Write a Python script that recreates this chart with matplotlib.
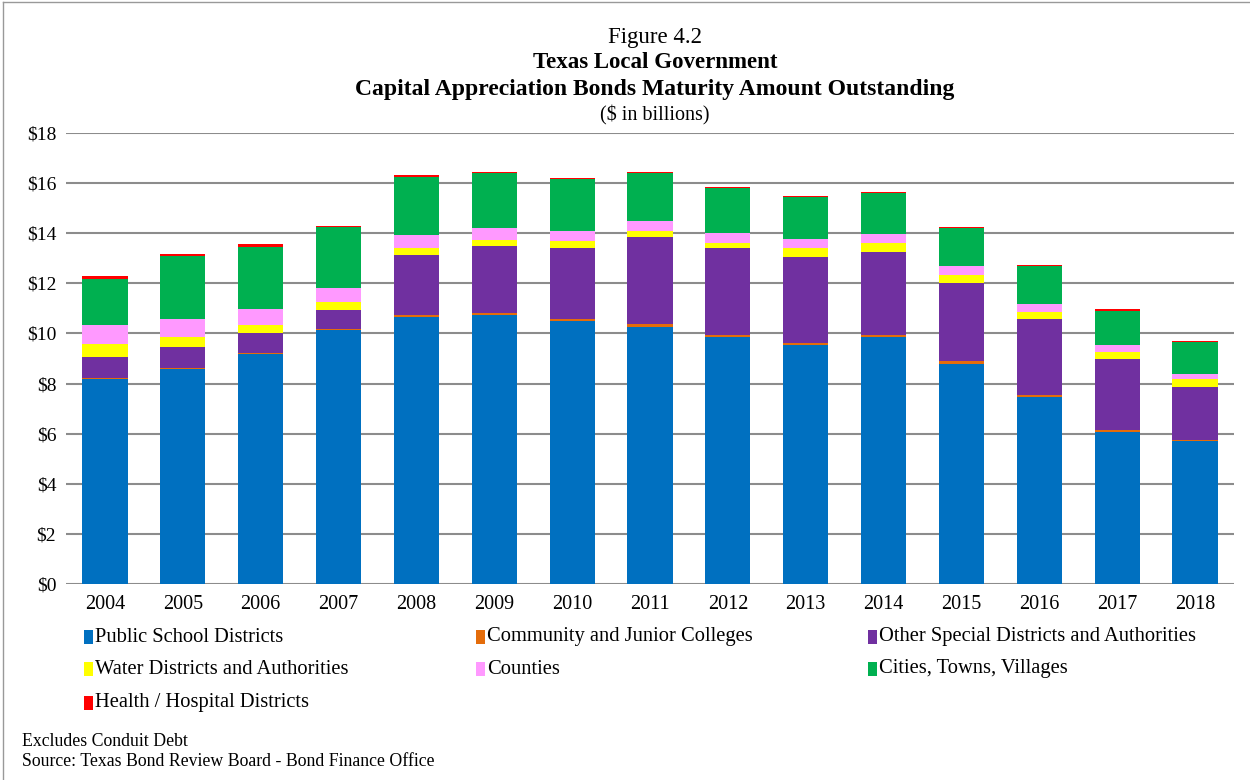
import matplotlib
matplotlib.use("Agg")
import matplotlib.pyplot as plt
from matplotlib.patches import Rectangle
from matplotlib.lines import Line2D
import numpy as np

years = ["2004", "2005", "2006", "2007", "2008", "2009", "2010", "2011",
         "2012", "2013", "2014", "2015", "2016", "2017", "2018"]

public_school = [8.17, 8.57, 9.17, 10.12, 10.64, 10.72, 10.48, 10.26, 9.84, 9.52, 9.87, 8.79, 7.45, 6.08, 5.69]
community_colleges = [0.05, 0.05, 0.05, 0.06, 0.09, 0.09, 0.09, 0.10, 0.10, 0.11, 0.07, 0.12, 0.11, 0.07, 0.06]
other_special = [0.85, 0.85, 0.81, 0.75, 2.41, 2.69, 2.86, 3.48, 3.49, 3.42, 3.33, 3.09, 3.01, 2.82, 2.12]
water = [0.51, 0.37, 0.32, 0.34, 0.29, 0.24, 0.24, 0.24, 0.18, 0.38, 0.34, 0.33, 0.28, 0.28, 0.32]
counties = [0.77, 0.73, 0.64, 0.55, 0.49, 0.45, 0.43, 0.40, 0.40, 0.35, 0.37, 0.36, 0.32, 0.29, 0.19]
cities = [1.83, 2.53, 2.47, 2.43, 2.33, 2.20, 2.06, 1.91, 1.78, 1.65, 1.61, 1.50, 1.51, 1.37, 1.29]
health = [0.10, 0.06, 0.09, 0.04, 0.07, 0.05, 0.06, 0.05, 0.05, 0.05, 0.04, 0.07, 0.05, 0.05, 0.04]

series_names = ["Public School Districts", "Community and Junior Colleges",
                "Other Special Districts and Authorities", "Water Districts and Authorities",
                "Counties", "Cities, Towns, Villages", "Health / Hospital Districts"]
series_values = [public_school, community_colleges, other_special, water, counties, cities, health]
series_colors = ["#0070C0", "#E46C0A", "#7030A0", "#FFFF00", "#FF99FF", "#00B050", "#FF0000"]

y_ticks = [0, 2, 4, 6, 8, 10, 12, 14, 16, 18]
y_tick_labels = ["$" + str(v) for v in y_ticks]

plt.rcParams['font.family'] = ['Liberation Serif', 'DejaVu Serif']

W, H = 1250, 780
fig = plt.figure(figsize=(12.5, 7.8), dpi=100)
ax = fig.add_axes([66 / W, 1 - 584 / H, (1234 - 66) / W, (584 - 133) / H])

x = np.arange(len(years))
bottom = np.zeros(len(years))
for name, vals, col in zip(series_names, series_values, series_colors):
    v = np.array(vals)
    ax.bar(x, v, width=0.58, bottom=bottom, color=col, edgecolor='none', zorder=3, label=name)
    bottom += v

ax.set_xlim(-0.5, len(years) - 0.5)
ax.set_ylim(0, 18)
ax.set_yticks(y_ticks)
ax.set_yticklabels(y_tick_labels, fontsize=14)
ax.set_xticks(x)
ax.set_xticklabels(years, fontsize=14.5)
ax.tick_params(axis='both', length=0)
ax.tick_params(axis='y', pad=7)
ax.tick_params(axis='x', pad=8)
ax.yaxis.grid(True, color='#8c8c8c', linewidth=1.5, zorder=0)
for s in ax.spines.values():
    s.set_visible(False)

# Titles
cx = 655 / W
fig.text(cx, 1 - 37 / H, "Figure 4.2", ha='center', va='center', fontsize=16.5)
fig.text(cx, 1 - 62 / H, "Texas Local Government", ha='center', va='center', fontsize=16.5, fontweight='bold')
fig.text(cx, 1 - 89 / H, "Capital Appreciation Bonds Maturity Amount Outstanding", ha='center', va='center',
         fontsize=17, fontweight='bold')
fig.text(cx, 1 - 115 / H, "($ in billions)", ha='center', va='center', fontsize=14.5)

# Legend (manual, 3 columns)
col_x = [84, 476, 868]
row_y = [637, 669, 703]
for i, (name, col) in enumerate(zip(series_names, series_colors)):
    cxp = col_x[i % 3]
    ryp = row_y[i // 3]
    fig.add_artist(Rectangle((cxp / W, 1 - (ryp + 7) / H), 9 / W, 14 / H,
                             transform=fig.transFigure, facecolor=col, edgecolor='none'))
    fig.text((cxp + 11) / W, 1 - ryp / H, name, ha='left', va='center', fontsize=14.8)

# Footnotes
fig.text(22 / W, 1 - 742 / H, "Excludes Conduit Debt", ha='left', va='center', fontsize=12.8)
fig.text(22 / W, 1 - 762 / H, "Source: Texas Bond Review Board - Bond Finance Office", ha='left', va='center', fontsize=12.8)

# Frame lines
fig.add_artist(Line2D([3 / W, 3 / W], [0, 1 - 2 / H], transform=fig.transFigure, color='#999999', linewidth=1))
fig.add_artist(Line2D([3 / W, 1], [1 - 2 / H, 1 - 2 / H], transform=fig.transFigure, color='#999999', linewidth=1))

fig.savefig("out.png", dpi=100)
